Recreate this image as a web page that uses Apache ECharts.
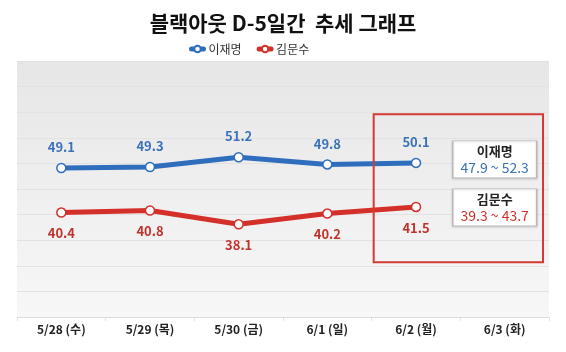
<!DOCTYPE html>
<html>
<head>
<meta charset="utf-8">
<script src="https://cdn.jsdelivr.net/npm/echarts@6/dist/echarts.min.js"></script>
<style>
  html, body { margin: 0; padding: 0; background: #fff; }
  #chart { width: 566px; height: 352px; }
</style>
</head>
<body>
<div id="chart"></div>
<script>
// 블랙아웃 직전 추세
var categories = ['5/28 (수)', '5/29 (목)', '5/30 (금)', '6/1 (일)', '6/2 (월)', '6/3 (화)'];
var leeValues = [49.1, 49.3, 51.2, 49.8, 50.1, null];
var kimValues = [40.4, 40.8, 38.1, 40.2, 41.5, null];
var leeRange = [47.9, 52.3];
var kimRange = [39.3, 43.7];
var yTicks = { min: 20, max: 70, interval: 5 };

var FONT = '"Noto Sans CJK KR", "Noto Sans", sans-serif';
var BLUE = '#2f6dbd';
var RED = '#d4302a';

var chart = echarts.init(document.getElementById('chart'));

function rangeBox(name, range, color, value) {
    return {
        coord: ['6/3 (화)', value],
        symbol: 'rect',
        symbolSize: [84, 37],
        symbolOffset: [-10, 0],
        itemStyle: {
            color: '#fff',
            borderColor: '#b9b9b9',
            borderWidth: 1,
            shadowColor: 'rgba(0,0,0,0.15)',
            shadowBlur: 2,
            shadowOffsetY: 1
        },
        label: {
            show: true,
            position: 'inside',
            formatter: '{n|' + name + '}\n{r|' + range[0] + ' ~ ' + range[1] + '}',
            rich: {
                n: { fontFamily: FONT, fontSize: 13, fontWeight: 'bold', color: '#222', lineHeight: 16 },
                r: { fontFamily: FONT, fontSize: 14, color: color, lineHeight: 17 }
            }
        }
    };
}

var option = {
    backgroundColor: '#fff',
    animation: false,
    title: {
        text: '블랙아웃 D-5일간  추세 그래프',
        left: 'center',
        top: 8,
        textStyle: { fontFamily: FONT, fontSize: 21, fontWeight: 'bold', color: '#111' }
    },
    legend: {
        top: 38,
        left: 184,
        itemWidth: 12,
        itemHeight: 8,
        itemGap: 15,
        lineStyle: { width: 5, cap: 'round' },
        textStyle: { fontFamily: FONT, fontSize: 12, color: '#333' },
        data: ['이재명', '김문수']
    },
    grid: {
        left: 17,
        right: 17,
        top: 61,
        bottom: 35,
        show: true,
        borderWidth: 0,
        backgroundColor: new echarts.graphic.LinearGradient(0, 0, 0, 1, [
            { offset: 0, color: '#e6e6e6' },
            { offset: 0.45, color: '#eeeeee' },
            { offset: 1, color: '#f7f7f7' }
        ])
    },
    xAxis: {
        type: 'category',
        data: categories,
        boundaryGap: true,
        axisLine: { lineStyle: { color: '#dcdcdc' } },
        axisTick: { show: true, length: 4, lineStyle: { color: '#e0e0e0' } },
        axisLabel: { fontFamily: FONT, fontSize: 12, fontWeight: 'bold', color: '#222', margin: 6 }
    },
    yAxis: {
        type: 'value',
        min: yTicks.min,
        max: yTicks.max,
        interval: yTicks.interval,
        axisLine: { show: false },
        axisTick: { show: false },
        axisLabel: { show: false },
        splitLine: { lineStyle: { color: '#e2e2e2', width: 1 } }
    },
    series: [
        {
            name: '이재명',
            type: 'line',
            data: leeValues,
            color: BLUE,
            lineStyle: { width: 5, color: BLUE },
            symbol: 'circle',
            symbolSize: 9,
            itemStyle: { color: '#fff', borderColor: BLUE, borderWidth: 1.5 },
            label: {
                show: true,
                position: 'top',
                distance: 9,
                fontFamily: FONT,
                fontSize: 13,
                fontWeight: 'bold',
                color: '#3a72b8'
            },
            markPoint: {
                data: [rangeBox('이재명', leeRange, '#3a72b8', 50.8)]
            },
            z: 3
        },
        {
            name: '김문수',
            type: 'line',
            data: kimValues,
            color: RED,
            lineStyle: { width: 5, color: RED },
            symbol: 'circle',
            symbolSize: 9,
            itemStyle: { color: '#fff', borderColor: RED, borderWidth: 1.5 },
            label: {
                show: true,
                position: 'bottom',
                distance: 9,
                fontFamily: FONT,
                fontSize: 13,
                fontWeight: 'bold',
                color: '#c0332d'
            },
            markPoint: {
                data: [rangeBox('김문수', kimRange, '#d0302a', 41.4)]
            },
            z: 3
        }
    ]
};

chart.setOption(option);

// 빨간 강조 박스: 6/2 밴드 시작 ~ 6/3 밴드 끝 (축 기준으로 계산)
var bandW = chart.convertToPixel({ xAxisIndex: 0 }, categories[1]) - chart.convertToPixel({ xAxisIndex: 0 }, categories[0]);
var x0 = chart.convertToPixel({ xAxisIndex: 0 }, '6/2 (월)') - bandW / 2 + 2;
var x1 = chart.convertToPixel({ xAxisIndex: 0 }, '6/3 (화)') + bandW / 2 - 6;
var y0 = chart.convertToPixel({ yAxisIndex: 0 }, 59.6);
var y1 = chart.convertToPixel({ yAxisIndex: 0 }, 30.7);
chart.setOption({
    graphic: [{
        type: 'rect',
        shape: { x: x0, y: y0, width: x1 - x0, height: y1 - y0 },
        style: { fill: 'none', stroke: '#d43a34', lineWidth: 2 },
        z: 10
    }]
});
</script>
</body>
</html>
